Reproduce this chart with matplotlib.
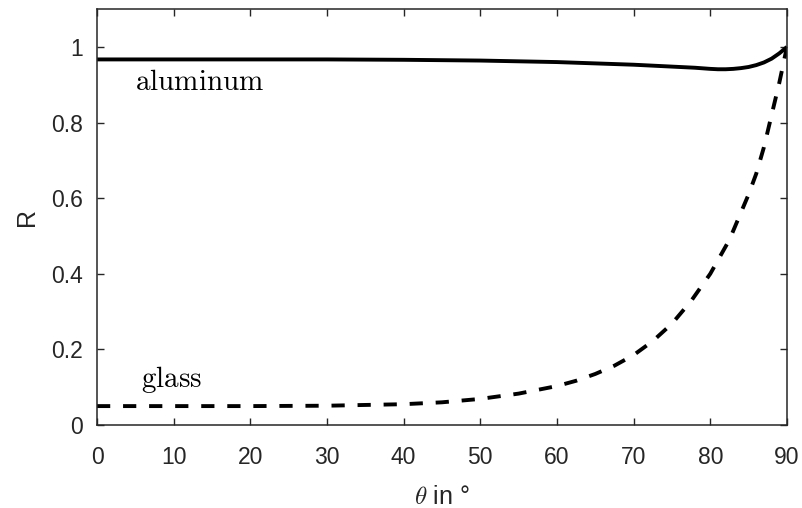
import matplotlib
matplotlib.use("Agg")
import matplotlib.pyplot as plt

theta_al = [0, 10, 20, 30, 40, 50, 60, 70, 75, 78, 80, 81, 82, 83, 84, 85,
            86, 87, 88, 89, 90]
r_al = [0.967, 0.967, 0.967, 0.967, 0.966, 0.964, 0.960, 0.953, 0.948, 0.945,
        0.942, 0.941, 0.941, 0.942, 0.944, 0.947, 0.952, 0.959, 0.969, 0.983, 1.0]

theta_gl = [0, 10, 20, 30, 40, 45, 50, 55, 60, 62.5, 65, 67.5, 70, 72.5, 75,
            77.5, 80, 82.5, 85, 86, 87, 88, 89, 90]
r_gl = [0.050, 0.050, 0.050, 0.051, 0.055, 0.060, 0.069, 0.083, 0.103, 0.117,
        0.135, 0.157, 0.185, 0.222, 0.268, 0.328, 0.40, 0.49, 0.61, 0.665,
        0.735, 0.82, 0.905, 1.0]

xticks = [0, 10, 20, 30, 40, 50, 60, 70, 80, 90]
yticks = [0, 0.2, 0.4, 0.6, 0.8, 1]

plt.rcParams['font.family'] = ['Liberation Sans', 'DejaVu Sans']
plt.rcParams['mathtext.fontset'] = 'cm'
axis_col = '#262626'

fig = plt.figure(figsize=(8.03, 5.08), dpi=100)
ax = fig.add_axes([0.1208, 0.1634, 0.980 - 0.1208, 0.982 - 0.1634])

ax.plot(theta_al, r_al, color='black', lw=2.8, solid_capstyle='butt')
ax.plot(theta_gl, r_gl, color='black', lw=2.8, dashes=(3.4, 3.3))

ax.text(5, 0.886, r'$\mathrm{aluminum}$', fontsize=21)
ax.text(5.8, 0.10, r'$\mathrm{glass}$', fontsize=21)

ax.set_xlim(0, 90)
ax.set_ylim(0, 1.1)
ax.set_xticks(xticks)
ax.set_yticks(yticks)
ax.set_yticklabels(['0', '0.2', '0.4', '0.6', '0.8', '1'])
ax.tick_params(direction='in', length=5, width=1, top=True, right=True,
               labelsize=16.5, colors=axis_col)
ax.tick_params(axis='x', pad=15)
ax.tick_params(axis='y', pad=10)
for s in ax.spines.values():
    s.set_color(axis_col)
    s.set_linewidth(1.1)

ax.set_xlabel(r'$\theta$ in °', fontsize=18, color=axis_col, labelpad=12)
ax.set_ylabel('R', fontsize=18, color=axis_col, labelpad=9)

fig.savefig('out.png', dpi=100)
